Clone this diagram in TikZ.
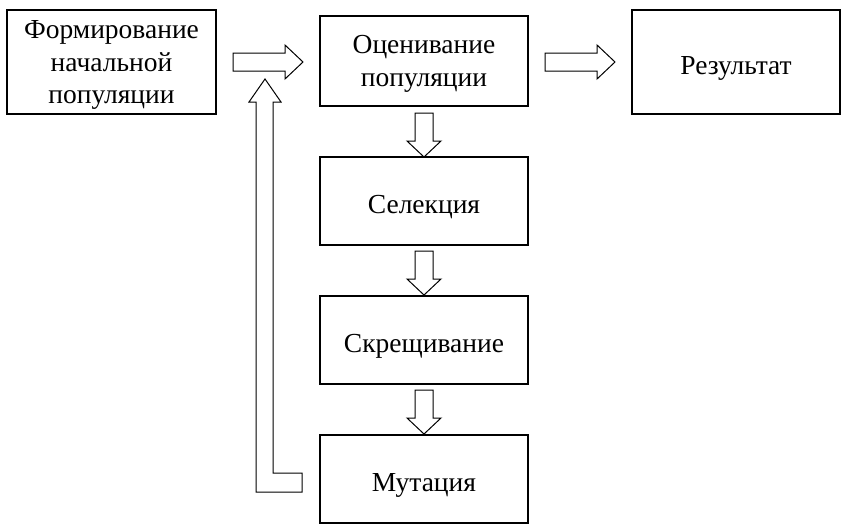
\documentclass[tikz,border=0pt]{standalone}
\usepackage{fontspec}
\setmainfont{Liberation Serif}
\begin{document}
\begin{tikzpicture}[
  x=1pt,
  y=-1pt,
  every node/.style={font=\fontsize{27.5}{32.5}\selectfont},
  stage/.style={draw=black, line width=2pt, fill=white, align=center,
    minimum width=208pt, inner sep=0pt, text depth=0pt},
  oneline/.style={text height=25pt},
  blockarrow/.style={draw=black, line width=1pt, fill=white, line join=miter}
]
  \useasboundingbox (0,0) rectangle (848,530);

  \node[stage, minimum width=209pt, minimum height=104pt] (init) at (111.5,62)
    {Формирование\\начальной\\популяции};
  \node[stage, minimum height=90pt] (fitness) at (424,61)
    {Оценивание\\популяции};
  \node[stage, oneline, minimum height=104pt] (result) at (736,62) {Результат};
  \node[stage, oneline, minimum height=88pt] (select) at (424,201) {Селекция};
  \node[stage, oneline, minimum height=88pt] (cross) at (424,340) {Скрещивание};
  \node[stage, oneline, minimum height=88pt] (mutate) at (424,479) {Мутация};

  % horizontal block arrows
  \foreach \x in {233,545} {
    \draw[blockarrow] (\x,53) -- (\x+52,53) -- (\x+52,45) -- (\x+70,62)
      -- (\x+52,79) -- (\x+52,71) -- (\x,71) -- cycle;
  }

  % block arrows down the chain
  \foreach \y in {113,251,390} {
    \draw[blockarrow] (415,\y) -- (415,\y+28) -- (407,\y+28) -- (424,\y+44)
      -- (441,\y+28) -- (433,\y+28) -- (433,\y) -- cycle;
  }

  % return arrow from mutation
  \draw[blockarrow] (256,492) -- (302,492) -- (302,473) -- (273,473)
    -- (273,102) -- (281,102) -- (265,79) -- (249,102) -- (256,102) -- cycle;
\end{tikzpicture}
\end{document}
